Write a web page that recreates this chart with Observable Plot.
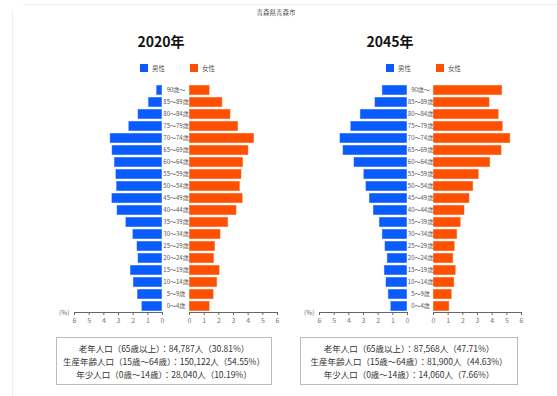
<!DOCTYPE html>
<html><head><meta charset="utf-8">
<script src="https://cdn.jsdelivr.net/npm/d3@7"></script>
<script src="https://cdn.jsdelivr.net/npm/@observablehq/plot@0.6"></script>
<style>
body{margin:0;background:#fff;font-family:"Noto Sans CJK JP","Noto Sans",sans-serif;}
#root{position:relative;width:557px;height:396px;overflow:hidden;background:#fff;}
.abs{position:absolute;}
.title{font-weight:bold;font-size:14px;color:#111;white-space:nowrap;transform:translateX(-50%);}
.sub{font-size:6.5px;color:#555;white-space:nowrap;transform:translateX(-50%);}
.sw{width:8px;height:8px;}
.lg{font-size:6.5px;color:#555;white-space:nowrap;line-height:8px;}
.pct{font-size:6.5px;color:#666;}
.box{border:1px solid #bbb;box-sizing:border-box;text-align:center;font-size:8.5px;color:#333;line-height:13px;padding-top:4px;white-space:nowrap;}
svg{overflow:visible;}
</style></head><body><div id="root"></div>
<script>
const chartTitle = "青森県青森市";
const years = ["2020年", "2045年"];
const seriesNames = ["男性", "女性"];
const ages = ["90歳～","85～89歳","80～84歳","75～79歳","70～74歳","65～69歳","60～64歳","55～59歳","50～54歳","45～49歳","40～44歳","35～39歳","30～34歳","25～29歳","20～24歳","15～19歳","10～14歳","5～9歳","0～4歳"];
const male2020   = [0.40,0.95,1.66,2.30,3.56,3.43,3.27,3.18,3.13,3.45,3.09,2.50,2.02,1.73,1.66,2.18,1.98,1.70,1.41];
const female2020 = [1.41,2.27,2.82,3.34,4.43,4.04,3.68,3.57,3.47,3.66,3.23,2.66,2.14,1.77,1.70,2.09,1.91,1.68,1.41];
const male2045   = [1.71,2.21,3.21,3.87,4.60,4.39,3.64,2.98,2.83,2.59,2.32,1.91,1.71,1.53,1.37,1.57,1.46,1.30,1.14];
const female2045 = [4.71,3.85,4.48,4.76,5.26,4.67,3.89,3.12,2.73,2.48,2.14,1.89,1.64,1.48,1.37,1.55,1.44,1.28,1.10];
const xTicks = [0,1,2,3,4,5,6];
const summary2020 = ["老年人口（65歳以上）：84,787人（30.81%）","生産年齢人口（15歳～64歳）：150,122人（54.55%）","年少人口（0歳～14歳）：28,040人（10.19%）"];
const summary2045 = ["老年人口（65歳以上）：87,568人（47.71%）","生産年齢人口（15歳～64歳）：81,900人（44.63%）","年少人口（0歳～14歳）：14,060人（7.66%）"];
const colors = ["#0a5cff", "#ff5000"];

const root = document.getElementById("root");
function el(cls, style, text){const d=document.createElement("div");d.className="abs "+cls;Object.assign(d.style,style);if(text!=null)d.textContent=text;root.appendChild(d);return d;}

// faint page frame
el("", {left:"23px",top:"4px",width:"534px",height:"1px",background:"#eee"});
el("", {left:"12px",top:"11px",width:"1px",height:"385px",background:"#eee"});

el("sub", {left:"276px", top:"7px"}, chartTitle);

const FONT = '"Noto Sans CJK JP","Noto Sans",sans-serif';
const H = 252, MT = 4, MB = 20;
const yOpt = {domain: ages, paddingInner: 0.13, paddingOuter: 0.02, axis: null};
const fmt = d3.format("d");

function malePlot(vals){
  const data = ages.map((a,i)=>({age:a, v:vals[i]}));
  return Plot.plot({
    width:113, height:H, marginLeft:24, marginRight:1, marginTop:MT, marginBottom:MB,
    x:{domain:[0,6], reverse:true},
    y:yOpt,
    style:{fontSize:"7px", color:"#777", background:"transparent", fontFamily:FONT},
    marks:[
      Plot.barX(data, {x:"v", y:"age", fill:colors[0], stroke:"#fff", strokeOpacity:0.55, strokeWidth:0.8}),
      Plot.frame({anchor:"bottom", stroke:"#666"}),
      Plot.axisX({ticks:xTicks, tickFormat:fmt, tickSize:3, tickPadding:3, label:null, stroke:"#666"})
    ]
  });
}
function femalePlot(vals, gap){
  const data = ages.map((a,i)=>({age:a, v:vals[i]}));
  return Plot.plot({
    width:gap+91, height:H, marginLeft:gap, marginRight:3, marginTop:MT, marginBottom:MB,
    x:{domain:[0,6]},
    y:yOpt,
    style:{fontSize:"7px", color:"#777", background:"transparent", fontFamily:FONT},
    marks:[
      Plot.barX(data, {x:"v", y:"age", fill:colors[1], stroke:"#fff", strokeOpacity:0.55, strokeWidth:0.8}),
      Plot.frame({anchor:"bottom", stroke:"#666"}),
      Plot.axisX({ticks:xTicks, tickFormat:fmt, tickSize:3, tickPadding:3, label:null, stroke:"#666"}),
      Plot.axisY({tickSize:0, tickPadding:gap/2, textAnchor:"middle", fontSize:6, fill:"#555", label:null})
    ]
  });
}

const panels = [
  {year:years[0], m:male2020, f:female2020, s:summary2020, mLeft:50, fLeft:162, gap:27, titleX:161, lgX:140, boxL:56, boxW:216},
  {year:years[1], m:male2045, f:female2045, s:summary2045, mLeft:295, fLeft:407, gap:26, titleX:390, lgX:386, boxL:300, boxW:218}
];
for(const p of panels){
  el("title", {left:p.titleX+"px", top:"31px"}, p.year);
  el("sw", {left:p.lgX+"px", top:"64px", background:colors[0]});
  el("lg", {left:(p.lgX+12)+"px", top:"64px"}, seriesNames[0]);
  el("sw", {left:(p.lgX+50)+"px", top:"64px", background:colors[1]});
  el("lg", {left:(p.lgX+62)+"px", top:"64px"}, seriesNames[1]);
  const m = malePlot(p.m); const mw = el("", {left:p.mLeft+"px", top:"80px"}); mw.appendChild(m);
  const f = femalePlot(p.f, p.gap); const fw = el("", {left:p.fLeft+"px", top:"80px"}); fw.appendChild(f);
  el("pct", {left:(p.mLeft+9)+"px", top:"307px"}, "(%)");
  const b = el("box", {left:p.boxL+"px", top:"337px", width:p.boxW+"px", height:"48px"});
  b.innerHTML = p.s.map(t=>`<div>${t}</div>`).join("");
}
</script></body></html>
